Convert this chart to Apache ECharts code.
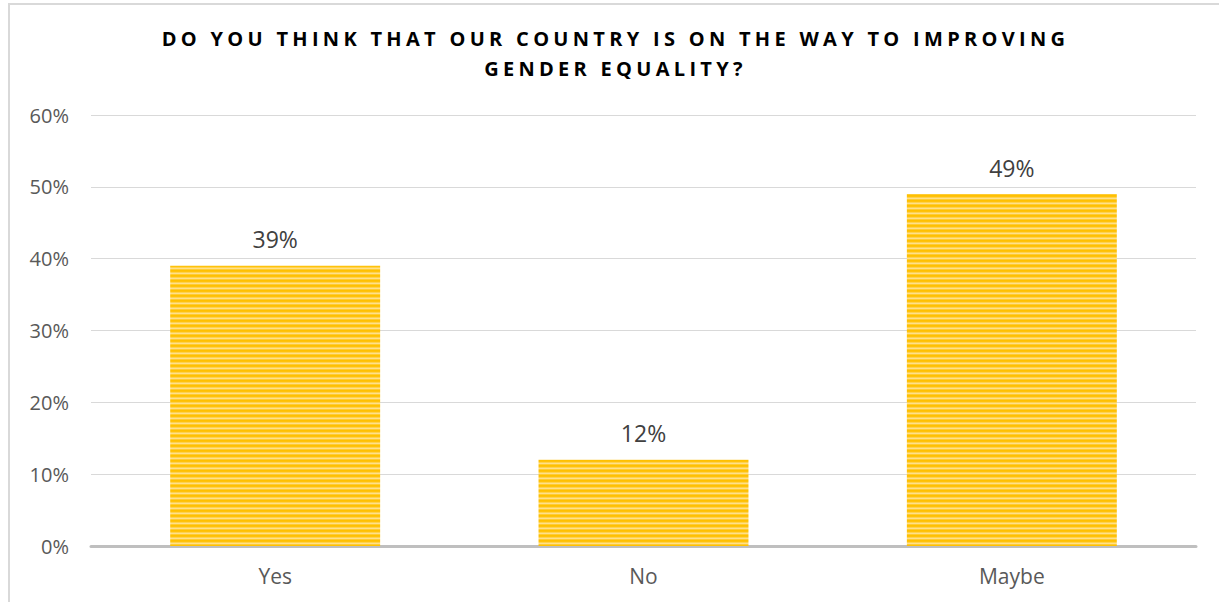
<!DOCTYPE html>
<html><head><meta charset="utf-8">
<script src="https://cdn.jsdelivr.net/npm/echarts@6/dist/echarts.min.js"></script>
<style>
html,body{margin:0;padding:0;background:#fff}
#c{width:1219px;height:602px}
#c svg text[style*="bold"]{letter-spacing:4.3px}
</style>
</head><body><div id="c"></div>
<script>
const titleText = 'DO YOU THINK THAT OUR COUNTRY IS ON THE WAY TO IMPROVING\nGENDER EQUALITY?';
const categories = ['Yes', 'No', 'Maybe'];
const values = [39, 12, 49];
const yTicks = [0, 10, 20, 30, 40, 50, 60];

function stripePattern() {
  const c = document.createElement('canvas');
  c.width = 8; c.height = 5;
  const g = c.getContext('2d');
  const rows = ['#FFC000', '#FFC20A', '#FFD24D', '#FFE08A', '#FFCC33'];
  rows.forEach((col, i) => { g.fillStyle = col; g.fillRect(0, i, 8, 1); });
  return c;
}

const chart = echarts.init(document.getElementById('c'), null, {renderer: 'svg'});
chart.setOption({
  animation: false,
  title: {
    text: titleText,
    left: 'center', top: 18,
    textStyle: {fontFamily: '"Open Sans", sans-serif', fontWeight: 'bold', fontSize: 20, color: '#000', lineHeight: 30}
  },
  graphic: [{
    type: 'rect', shape: {x: 9, y: 4, width: 1300, height: 700},
    style: {fill: 'none', stroke: '#D9D9D9', lineWidth: 2}, silent: true
  }],
  grid: {left: 91, right: 23, top: 115, bottom: 56, containLabel: false},
  xAxis: {
    type: 'category', data: categories,
    axisLine: {lineStyle: {color: '#BFBFBF', width: 3}},
    axisTick: {show: false},
    axisLabel: {color: '#595959', fontSize: 21, fontFamily: '"Open Sans", sans-serif', margin: 19}
  },
  yAxis: {
    type: 'value', min: 0, max: 60, interval: 10,
    axisLine: {show: false}, axisTick: {show: false},
    splitLine: {lineStyle: {color: '#D9D9D9', width: 1}},
    axisLabel: {color: '#595959', fontSize: 20, fontFamily: '"Open Sans", sans-serif', margin: 22,
      formatter: v => yTicks.includes(v) ? v + '%' : ''}
  },
  series: [{
    type: 'bar', data: values, barWidth: '57%',
    itemStyle: {color: {image: stripePattern(), repeat: 'repeat'}},
    label: {show: true, position: 'top', distance: 15, formatter: p => p.value + '%',
      color: '#404040', fontSize: 23, fontFamily: '"Open Sans", sans-serif'}
  }]
});
function spaceTitle() {
  document.querySelectorAll('#c svg text').forEach(t => {
    const s = t.textContent;
    if (s.indexOf('DO YOU THINK') === 0 || s.indexOf('GENDER EQUALITY') === 0) {
      t.setAttribute('letter-spacing', '4.3');
      t.style.letterSpacing = '4.3px';
      t.setAttribute('dx', '6');
    }
  });
}
chart.on('finished', spaceTitle);
spaceTitle();
</script></body></html>
